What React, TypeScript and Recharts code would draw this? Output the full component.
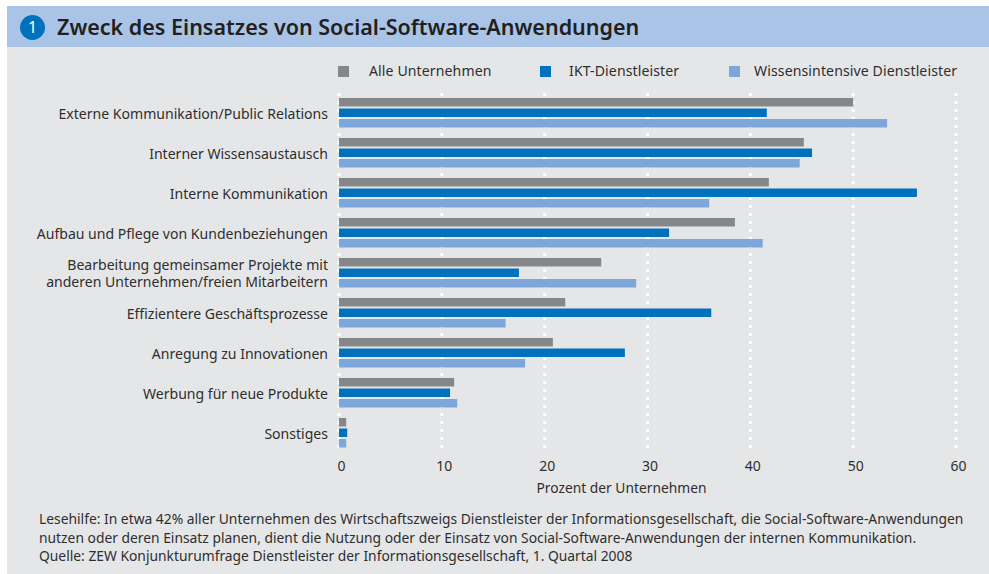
import React from "react";
import { BarChart, Bar, XAxis, YAxis, CartesianGrid, Legend } from "recharts";

const categories = [
  "Externe Kommunikation/Public Relations",
  "Interner Wissensaustausch",
  "Interne Kommunikation",
  "Aufbau und Pflege von Kundenbeziehungen",
  "Bearbeitung gemeinsamer Projekte mit\nanderen Unternehmen/freien Mitarbeitern",
  "Effizientere Geschäftsprozesse",
  "Anregung zu Innovationen",
  "Werbung für neue Produkte",
  "Sonstiges",
];
const alle = [50, 45.2, 41.8, 38.5, 25.5, 22, 20.8, 11.2, 0.7];
const ikt = [41.6, 46, 56.2, 32.1, 17.5, 36.2, 27.8, 10.8, 0.8];
const wissen = [53.3, 44.8, 36, 41.2, 28.9, 16.2, 18.1, 11.5, 0.7];
const xTicks = [0, 10, 20, 30, 40, 50, 60];
const title = "Zweck des Einsatzes von Social-Software-Anwendungen";
const xLabel = "Prozent der Unternehmen";
const footer = [
  "Lesehilfe: In etwa 42% aller Unternehmen des Wirtschaftszweigs Dienstleister der Informationsgesellschaft, die Social-Software-Anwendungen",
  "nutzen oder deren Einsatz planen, dient die Nutzung oder der Einsatz von Social-Software-Anwendungen der internen Kommunikation.",
  "Quelle: ZEW Konjunkturumfrage Dienstleister der Informationsgesellschaft, 1. Quartal 2008",
];

const data = categories.map((name, i) => ({ name, alle: alle[i], ikt: ikt[i], wissen: wissen[i] }));
const FONT = "'Noto Sans', sans-serif";
const TEXT = "#2f2e2e";

function CategoryTick({ x, y, payload }: any) {
  const lines = String(payload.value).split("\n");
  const start = y + 5.5 - (lines.length - 1) * 9;
  return (
    <text x={x} y={start} textAnchor="end" fontFamily={FONT} fontSize={14.05} fill={TEXT}>
      {lines.map((l: string, i: number) => (
        <tspan key={i} x={x} dy={i === 0 ? 0 : 17}>{l}</tspan>
      ))}
    </text>
  );
}

const legendLeft = [338, 540, 729];
const legendGap = [31, 29, 25];
function LegendContent({ payload }: any) {
  return (
    <div style={{ position: "relative", height: 20, width: 989 }}>
      {(payload || []).map((p: any, i: number) => (
        <div key={p.value} style={{ position: "absolute", left: legendLeft[i], top: 0, whiteSpace: "nowrap", font: `14.1px ${FONT}`, letterSpacing: 0.1, color: TEXT, lineHeight: "20px" }}>
          <span style={{ position: "absolute", left: 0, top: 5, width: 11, height: 11, background: p.color }} />
          <span style={{ marginLeft: legendGap[i] }}>{p.value}</span>
        </div>
      ))}
    </div>
  );
}

export default function App() {
  return (
    <div style={{ position: "absolute", left: 0, top: 0, width: 989, height: 574, background: "#fff", overflow: "hidden" }}>
      <div style={{ position: "absolute", left: 7, top: 6, width: 982, height: 568, background: "#e5e6e8" }} />
      <div style={{ position: "absolute", left: 7, top: 6, width: 982, height: 41, background: "#a9c4e6" }} />
      <div style={{ position: "absolute", left: 20, top: 15, width: 25, height: 25, borderRadius: "50%", background: "#0071bc", color: "#fff", font: `16px/25px ${FONT}`, textAlign: "center" }}>1</div>
      <div style={{ position: "absolute", left: 57, top: 12, font: `600 21.5px/30px ${FONT}`, color: "#231f20", whiteSpace: "nowrap" }}>{title}</div>
      <div style={{ position: "absolute", left: 0, top: 0 }}>
        <BarChart
          width={989}
          height={574}
          data={data}
          layout="vertical"
          margin={{ top: 63, right: 33, bottom: 71, left: 0 }}
          barSize={8.5}
          barGap={2}
          barCategoryGap={0}
        >
          <CartesianGrid horizontal={false} vertical stroke="#ffffff" strokeWidth={3} strokeDasharray="3 5" />
          <XAxis
            type="number"
            domain={[0, 60]}
            ticks={xTicks}
            axisLine={false}
            tickLine={false}
            height={50}
            tick={{ fontFamily: FONT, fontSize: 14, fill: TEXT, dx: 2.5 }}
            tickMargin={2}
            label={{ value: xLabel, position: "insideBottom", offset: 10, fontFamily: FONT, fontSize: 13.8, fill: TEXT, dx: -26 }}
          />
          <YAxis type="category" dataKey="name" width={339} axisLine={false} tickLine={false} interval={0} tick={<CategoryTick />} tickMargin={11} tickSize={0} />
          <Legend verticalAlign="top" height={30} content={<LegendContent />} wrapperStyle={{ left: 0, top: 61, width: 989 }} />
          <Bar dataKey="alle" name="Alle Unternehmen" fill="#868789" isAnimationActive={false} />
          <Bar dataKey="ikt" name="IKT-Dienstleister" fill="#0071bc" isAnimationActive={false} />
          <Bar dataKey="wissen" name="Wissensintensive Dienstleister" fill="#7da7da" isAnimationActive={false} />
        </BarChart>
      </div>
      <div style={{ position: "absolute", left: 39, top: 510, font: `13.84px/18.5px ${FONT}`, color: TEXT, whiteSpace: "nowrap" }}>
        {footer.map((l) => <div key={l}>{l}</div>)}
      </div>
    </div>
  );
}
